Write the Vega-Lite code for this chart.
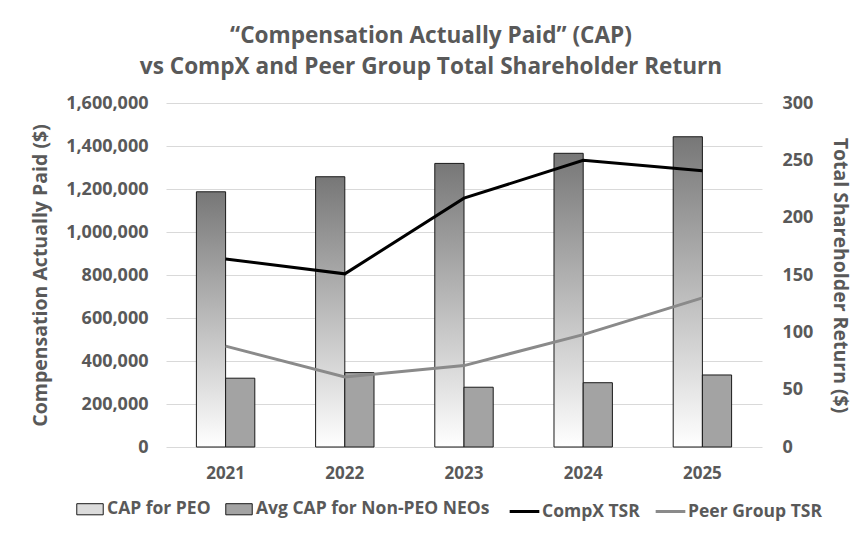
{
  "$schema": "https://vega.github.io/schema/vega-lite/v6.json",
  "width": 596,
  "height": 344,
  "autosize": {"type": "none"},
  "padding": {"left": 166, "top": 103, "right": 92, "bottom": 89},
  "background": "white",
  "config": {
    "font": "Open Sans",
    "view": {"stroke": null},
    "axis": {"labelColor": "#595959", "titleColor": "#595959", "labelFont": "Open Sans", "titleFont": "Open Sans"}
  },
  "datasets": {
    "cap": [
      {"year": "2021", "series": "CAP for PEO", "value": 1187000},
      {"year": "2021", "series": "Avg CAP for Non-PEO NEOs", "value": 320000},
      {"year": "2022", "series": "CAP for PEO", "value": 1257000},
      {"year": "2022", "series": "Avg CAP for Non-PEO NEOs", "value": 346000},
      {"year": "2023", "series": "CAP for PEO", "value": 1319000},
      {"year": "2023", "series": "Avg CAP for Non-PEO NEOs", "value": 278000},
      {"year": "2024", "series": "CAP for PEO", "value": 1366000},
      {"year": "2024", "series": "Avg CAP for Non-PEO NEOs", "value": 299000},
      {"year": "2025", "series": "CAP for PEO", "value": 1443000},
      {"year": "2025", "series": "Avg CAP for Non-PEO NEOs", "value": 335000}
    ],
    "tsr": [
      {"year": "2021", "series": "CompX TSR", "tsr": 164},
      {"year": "2022", "series": "CompX TSR", "tsr": 151},
      {"year": "2023", "series": "CompX TSR", "tsr": 217},
      {"year": "2024", "series": "CompX TSR", "tsr": 250},
      {"year": "2025", "series": "CompX TSR", "tsr": 241},
      {"year": "2021", "series": "Peer Group TSR", "tsr": 88},
      {"year": "2022", "series": "Peer Group TSR", "tsr": 61},
      {"year": "2023", "series": "Peer Group TSR", "tsr": 71},
      {"year": "2024", "series": "Peer Group TSR", "tsr": 98},
      {"year": "2025", "series": "Peer Group TSR", "tsr": 130}
    ]
  },
  "title": {
    "text": ["“Compensation Actually Paid” (CAP)", "vs CompX and Peer Group Total Shareholder Return"],
    "fontSize": 22.6,
    "font": "Open Sans",
    "fontWeight": "bold",
    "color": "#595959",
    "anchor": "middle",
    "dx": -33,
    "lineHeight": 31,
    "offset": 15
  },
  "layer": [
    {
      "data": {"name": "cap"},
      "mark": {"type": "bar", "stroke": "#1a1a1a", "strokeWidth": 1},
      "encoding": {
        "x": {
          "field": "year", "type": "nominal",
          "scale": {"paddingInner": 0.51, "paddingOuter": 0.255},
          "axis": {"title": null, "labelAngle": 0, "labelFontSize": 17, "labelFontWeight": "bold", "labelPadding": 18, "domain": false, "ticks": false}
        },
        "xOffset": {"field": "series", "sort": ["CAP for PEO", "Avg CAP for Non-PEO NEOs"], "scale": {"paddingInner": 0, "paddingOuter": 0}},
        "y": {
          "field": "value", "type": "quantitative",
          "scale": {"domain": [0, 1600000]},
          "axis": {"title": "Compensation Actually Paid ($)", "titleFontSize": 19.5, "titleFontWeight": "bold", "titlePadding": 15, "values": [0, 200000, 400000, 600000, 800000, 1000000, 1200000, 1400000, 1600000], "format": ",.0f", "labelFontSize": 18, "labelFontWeight": "bold", "labelPadding": 18, "domain": false, "ticks": false, "gridColor": "#d9d9d9", "gridWidth": 1}
        },
        "fill": {
          "condition": {
            "test": "datum.series === 'CAP for PEO'",
            "value": {"gradient": "linear", "x1": 0, "y1": 0, "x2": 0, "y2": 1, "stops": [{"offset": 0, "color": "#777777"}, {"offset": 1, "color": "#ffffff"}]}
          },
          "field": "series", "type": "nominal",
          "scale": {
            "domain": ["CAP for PEO", "Avg CAP for Non-PEO NEOs"],
            "range": ["#dcdcdc", "#a3a3a3"]
          },
          "legend": {
            "title": null, "orient": "none", "direction": "horizontal", "legendX": -90, "legendY": 392,
            "symbolType": "M-1,-0.42H1V0.42H-1Z", "symbolSize": 700, "symbolStrokeColor": "#1a1a1a", "symbolStrokeWidth": 1, "symbolOpacity": 1,
            "labelFontSize": 17.5, "labelFontWeight": "bold", "labelColor": "#595959", "labelFont": "Open Sans", "labelOffset": 3, "labelLimit": 0, "columnPadding": 12
          }
        }
      }
    },
    {
      "data": {"name": "tsr"},
      "mark": {"type": "line", "strokeWidth": 3},
      "encoding": {
        "x": {"field": "year", "type": "nominal"},
        "y": {
          "field": "tsr", "type": "quantitative",
          "scale": {"domain": [0, 300]},
          "axis": {"orient": "right", "title": "Total Shareholder Return ($)", "titleFontSize": 19.5, "titleFontWeight": "bold", "titlePadding": 17, "values": [0, 50, 100, 150, 200, 250, 300], "labelFontSize": 18, "labelFontWeight": "bold", "labelPadding": 20, "domain": false, "ticks": false, "grid": false}
        },
        "stroke": {
          "field": "series", "type": "nominal",
          "scale": {"domain": ["CompX TSR", "Peer Group TSR"], "range": ["#000000", "#8a8a8a"]},
          "legend": {
            "title": null, "orient": "none", "direction": "horizontal", "legendX": 342, "legendY": 392,
            "symbolType": "stroke", "symbolSize": 880, "symbolStrokeWidth": 3,
            "labelFontSize": 17.5, "labelFontWeight": "bold", "labelColor": "#595959", "labelFont": "Open Sans", "labelOffset": 1, "labelLimit": 0, "columnPadding": 9
          }
        }
      }
    }
  ],
  "resolve": {"scale": {"y": "independent", "fill": "independent", "stroke": "independent"}}
}
